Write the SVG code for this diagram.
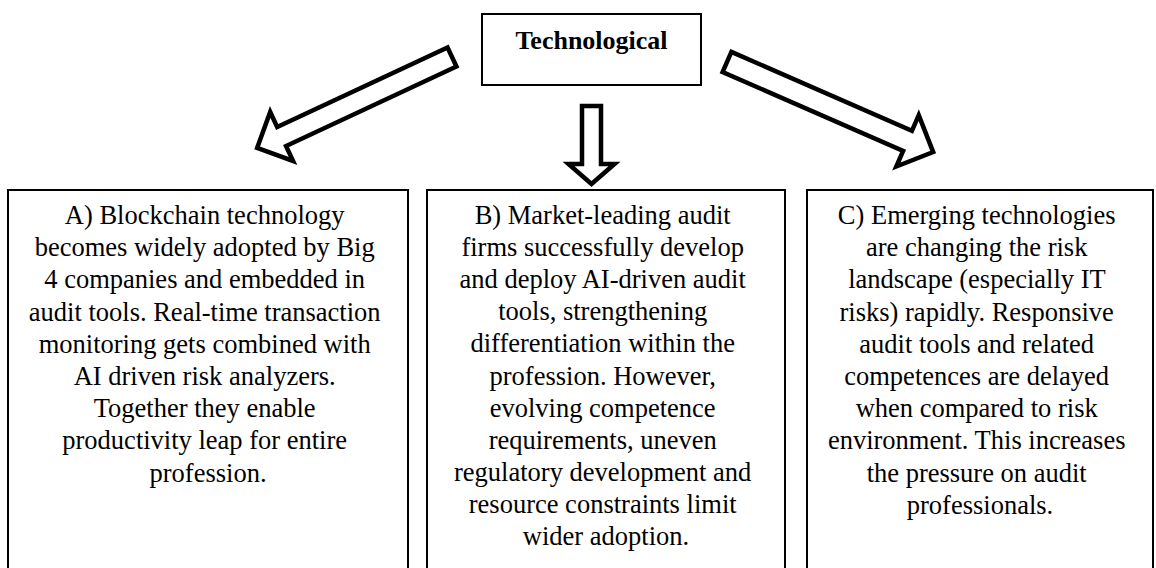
<svg xmlns="http://www.w3.org/2000/svg" width="1156" height="568" viewBox="0 0 1156 568">
  <style>
    .box { fill: #ffffff; stroke: #000000; stroke-width: 2; }
    .block-arrow { fill: #ffffff; stroke: #000000; stroke-width: 4.5; stroke-linejoin: miter; stroke-miterlimit: 10; }
    .title { font-family: "Liberation Serif", "Times New Roman", serif; font-size: 26px; font-weight: bold; fill: #000000; text-anchor: middle; }
    .body { font-family: "Liberation Serif", "Times New Roman", serif; font-size: 26.5px; fill: #000000; text-anchor: middle; }
  </style>
  <rect x="0" y="0" width="1156" height="568" fill="#ffffff"/>

  <!-- block arrows from the top box to the three scenarios -->
  <g id="connectors">
    <polygon class="block-arrow" transform="translate(452,57) rotate(155)"
      points="0,-10.5 188,-10.5 188,-27 215,0 188,27 188,10.5 0,10.5"/>
    <polygon class="block-arrow" transform="translate(591.5,106) rotate(90)"
      points="0,-9.5 58,-9.5 58,-23 78,0 58,23 58,9.5 0,9.5"/>
    <polygon class="block-arrow" transform="translate(727,62) rotate(23.6)"
      points="0,-11 197,-11 197,-28 225,0 197,28 197,11 0,11"/>
  </g>

  <g id="node-technological">
    <rect class="box" x="482" y="14" width="219" height="71"/>
    <text class="title" x="591.5" y="49">Technological</text>
  </g>

  <g id="node-a">
    <rect class="box" x="8" y="190" width="400" height="400"/>
    <text class="body" x="208" y="224">
      <tspan x="208">A) Blockchain technology</tspan>
      <tspan x="208" dy="32.2">becomes widely adopted by Big</tspan>
      <tspan x="208" dy="32.2">4 companies and embedded in</tspan>
      <tspan x="208" dy="32.2">audit tools. Real-time transaction</tspan>
      <tspan x="208" dy="32.2">monitoring gets combined with</tspan>
      <tspan x="208" dy="32.2">AI driven risk analyzers.</tspan>
      <tspan x="208" dy="32.2">Together they enable</tspan>
      <tspan x="208" dy="32.2">productivity leap for entire</tspan>
      <tspan x="208" dy="32.2">profession.</tspan>
    </text>
  </g>

  <g id="node-b">
    <rect class="box" x="427" y="190" width="358" height="400"/>
    <text class="body" x="606" y="224">
      <tspan x="606">B) Market-leading audit</tspan>
      <tspan x="606" dy="32.1">firms successfully develop</tspan>
      <tspan x="606" dy="32.1">and deploy AI-driven audit</tspan>
      <tspan x="606" dy="32.1">tools, strengthening</tspan>
      <tspan x="606" dy="32.1">differentiation within the</tspan>
      <tspan x="606" dy="32.1">profession. However,</tspan>
      <tspan x="606" dy="32.1">evolving competence</tspan>
      <tspan x="606" dy="32.1">requirements, uneven</tspan>
      <tspan x="606" dy="32.1">regulatory development and</tspan>
      <tspan x="606" dy="32.1">resource constraints limit</tspan>
      <tspan x="606" dy="32.1">wider adoption.</tspan>
    </text>
  </g>

  <g id="node-c">
    <rect class="box" x="807" y="190" width="346" height="400"/>
    <text class="body" x="980" y="224">
      <tspan x="980">C) Emerging technologies</tspan>
      <tspan x="980" dy="32.2">are changing the risk</tspan>
      <tspan x="980" dy="32.2">landscape (especially IT</tspan>
      <tspan x="980" dy="32.2">risks) rapidly. Responsive</tspan>
      <tspan x="980" dy="32.2">audit tools and related</tspan>
      <tspan x="980" dy="32.2">competences are delayed</tspan>
      <tspan x="980" dy="32.2">when compared to risk</tspan>
      <tspan x="980" dy="32.2">environment. This increases</tspan>
      <tspan x="980" dy="32.2">the pressure on audit</tspan>
      <tspan x="980" dy="32.2">professionals.</tspan>
    </text>
  </g>
</svg>
